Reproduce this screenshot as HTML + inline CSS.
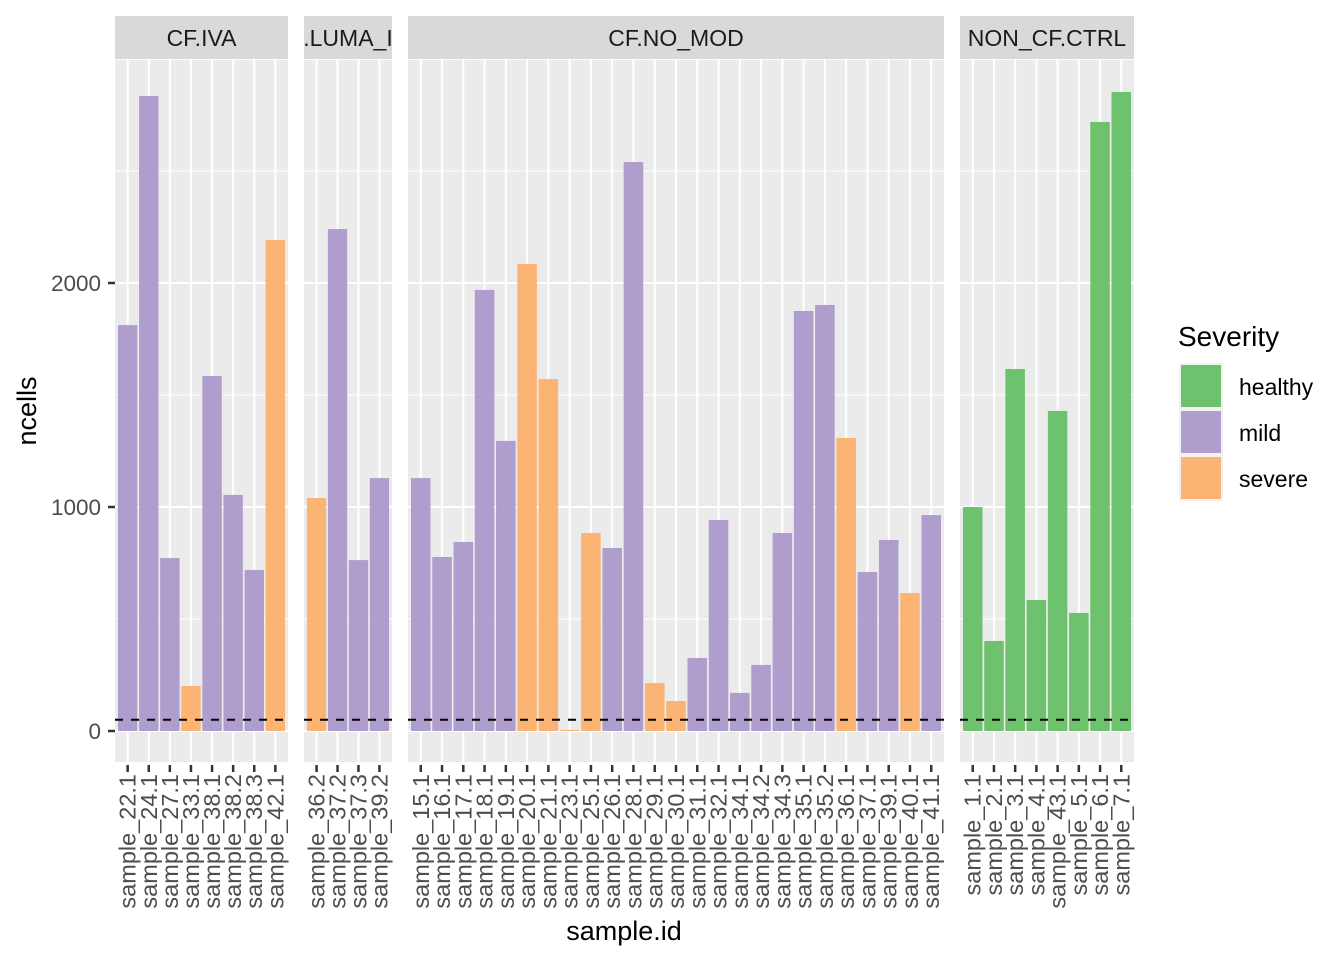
<!DOCTYPE html>
<html><head><meta charset="utf-8"><style>
body{margin:0;background:#fff}
svg{display:block;font-family:"Liberation Sans",Arial,sans-serif}
</style></head><body>
<svg id="c" width="1344" height="960" xmlns="http://www.w3.org/2000/svg"></svg>
<script>
const panelNames=["CF.IVA",".LUMA_I","CF.NO_MOD","NON_CF.CTRL"];
const panelX0=[115,304,408,960];
const panelX1=[288,392,944,1134];
const samples=[
["sample_22.1","sample_24.1","sample_27.1","sample_33.1","sample_38.1","sample_38.2","sample_38.3","sample_42.1"],
["sample_36.2","sample_37.2","sample_37.3","sample_39.2"],
["sample_15.1","sample_16.1","sample_17.1","sample_18.1","sample_19.1","sample_20.1","sample_21.1","sample_23.1","sample_25.1","sample_26.1","sample_28.1","sample_29.1","sample_30.1","sample_31.1","sample_32.1","sample_34.1","sample_34.2","sample_34.3","sample_35.1","sample_35.2","sample_36.1","sample_37.1","sample_39.1","sample_40.1","sample_41.1"],
["sample_1.1","sample_2.1","sample_3.1","sample_4.1","sample_43.1","sample_5.1","sample_6.1","sample_7.1"]];
const ncells=[
[1812,2835,772,201,1585,1054,719,2192],
[1040,2241,763,1129],
[1129,777,844,1969,1295,2085,1571,5,884,817,2540,214,134,326,942,170,295,884,1875,1902,1308,710,853,616,964],
[1000,402,1616,585,1429,527,2719,2853]];
const severity=[
["mild","mild","mild","severe","mild","mild","mild","severe"],
["severe","mild","mild","mild"],
["mild","mild","mild","mild","mild","severe","severe","severe","severe","mild","mild","severe","severe","mild","mild","mild","mild","mild","mild","mild","severe","mild","mild","severe","mild"],
["healthy","healthy","healthy","healthy","healthy","healthy","healthy","healthy"]];
const yTicks=[0,1000,2000];
const yMinor=[500,1500,2500];
const threshold=50;
const colors={healthy:"#6FC26D",mild:"#AF9ECD",severe:"#FBB474"};
const legendKeys=["healthy","mild","severe"];

const svg=document.getElementById('c');
const NS="http://www.w3.org/2000/svg";
function mk(t,a,p){const e=document.createElementNS(NS,t);for(const k in a)e.setAttribute(k,a[k]);(p||svg).appendChild(e);return e;}
const plotTop=60,plotBottom=762;
function y(v){return 731-v*0.224;}
function unit(p){return (panelX1[p]-panelX0[p])/(samples[p].length+0.2);}
function xs(p,i){return panelX0[p]+unit(p)*(i+0.6);}
function bw(p){return unit(p)*0.92;}

for(let p=0;p<4;p++){
  const g=mk('g',{});
  
  
  const x0=panelX0[p],x1=panelX1[p];
  mk('rect',{x:x0,y:plotTop,width:x1-x0,height:plotBottom-plotTop,fill:'#EBEBEB'},g);
  yMinor.forEach(v=>mk('line',{x1:x0,x2:x1,y1:y(v),y2:y(v),stroke:'#fff','stroke-width':1},g));
  yTicks.forEach(v=>mk('line',{x1:x0,x2:x1,y1:y(v),y2:y(v),stroke:'#fff','stroke-width':2},g));
  samples[p].forEach((s,i)=>mk('line',{x1:xs(p,i),x2:xs(p,i),y1:plotTop,y2:plotBottom,stroke:'#fff','stroke-width':2},g));
  const st=mk('rect',{x:x0,y:16,width:x1-x0,height:43,fill:'#D9D9D9'},g);
  
  
  const cp=mk('clipPath',{id:'cp'+p},g);
  mk('rect',{x:x0,y:16,width:x1-x0,height:43},cp);
  const tt=mk('text',{x:(x0+x1)/2,y:46,'text-anchor':'middle','font-size':23,fill:'#1A1A1A','clip-path':'url(#cp'+p+')'},g);
  tt.textContent=panelNames[p];
  
  
  samples[p].forEach((s,i)=>{
    const cx=xs(p,i),w=bw(p),v=ncells[p][i];
    const r=mk('rect',{x:cx-w/2,y:y(v),width:w,height:y(0)-y(v),fill:colors[severity[p][i]]},g);
    
    
    mk('line',{x1:cx,x2:cx,y1:plotBottom+3,y2:plotBottom+10,stroke:'#333','stroke-width':2.5},g);
    const t=mk('text',{x:0,y:0,transform:`translate(${cx+8},774) rotate(-90)`,'text-anchor':'end','font-size':23.5,fill:'#4D4D4D'},g);
    t.textContent=s;
    
    
  });
  const dl=mk('line',{x1:x0,x2:x1,y1:y(threshold),y2:y(threshold),stroke:'#000','stroke-width':2,'stroke-dasharray':'8,8'},g);
  
  
}
yTicks.forEach(v=>{
  mk('line',{x1:108,x2:115,y1:y(v),y2:y(v),stroke:'#333','stroke-width':2.5});
  const t=mk('text',{x:101,y:y(v)+8,'text-anchor':'end','font-size':22.5,fill:'#4D4D4D'});
  t.textContent=v;
  
  
});
let t=mk('text',{x:624,y:940,'text-anchor':'middle','font-size':27,fill:'#000'});
t.textContent='sample.id';


t=mk('text',{x:0,y:0,transform:'translate(36,411) rotate(-90)','text-anchor':'middle','font-size':27,fill:'#000'});
t.textContent='ncells';


t=mk('text',{x:1178,y:346,'font-size':28,fill:'#000'});
t.textContent='Severity';


legendKeys.forEach((k,i)=>{
  const g=mk('g',{});
  
  
  mk('rect',{x:1179,y:363+i*46,width:44,height:46,fill:'#F2F2F2'},g);
  mk('rect',{x:1181,y:365+i*46,width:40,height:42,fill:colors[k]},g);
  const l=mk('text',{x:1239,y:395+i*46,'font-size':23,fill:'#000'},g);
  l.textContent=k;
});
</script>
</body></html>
